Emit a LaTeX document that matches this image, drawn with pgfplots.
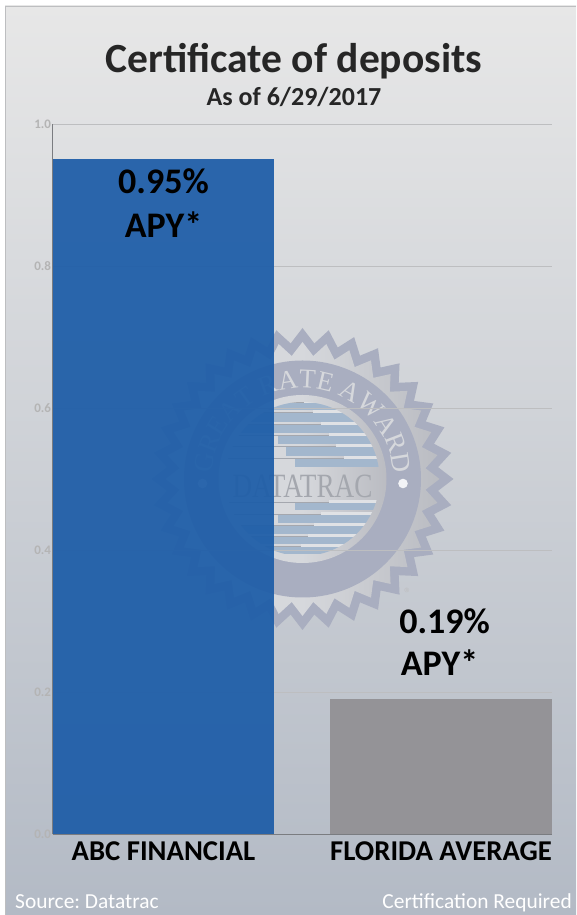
\documentclass[border=0pt]{standalone}
\usepackage{fontspec}
\setmainfont{Carlito}
\newfontfamily\sealfont{Liberation Serif}
\usepackage{pgfplots}
\pgfplotsset{compat=1.18}
\usetikzlibrary{shapes.geometric,decorations.text}
\definecolor{panelT}{HTML}{E7E7E7}
\definecolor{panelB}{HTML}{B3BAC5}
\definecolor{sealband}{HTML}{A9AEC0}
\definecolor{silverA}{HTML}{D6D8DC}
\definecolor{silverB}{HTML}{BABCC2}
\definecolor{stripe}{HTML}{A3B7CD}
\definecolor{stripeline}{HTML}{A4A7AE}
\definecolor{barblue}{HTML}{1F5EA8}
\definecolor{bargray}{HTML}{949397}
\definecolor{gridc}{HTML}{BDBEC0}
\definecolor{tickc}{HTML}{B4B4B4}
\definecolor{axisc}{HTML}{7A7C80}
\begin{document}
\frenchspacing
\begin{tikzpicture}[x=1pt,y=1pt]
\useasboundingbox (0,0) rectangle (576,915);
% panel
\fill[white] (0,0) rectangle (576,915);
\shade[top color=panelT,bottom color=panelB,draw=none] (5,0) rectangle (576,909);
\draw[color=gridc,line width=0.8pt] (5,0) -- (5,909) -- (576,909);
% seal
\begin{scope}[shift={(302.5,436)}]
\node[star,star points=36,star point ratio=1.11,minimum size=302pt,inner sep=0pt,fill=sealband,draw=none] at (0,0) {};
\node[star,star points=36,star point ratio=1.11,minimum size=274pt,inner sep=0pt,left color=silverA,right color=silverB,middle color=silverA,draw=none] at (0,0) {};
\fill[sealband] (0,0) circle (118.5);
\shade[left color=silverA,right color=silverB,middle color=silverA] (0,0) circle (84);
\fill[white!85!sealband] (-100,-4.5) circle (4.8);
\fill[white!85!sealband] (100.5,-4.5) circle (4.8);
\begin{scope}
\clip (0,0) circle (77);
\foreach \t/\b/\s/\l in {76/69/1/-90,66/57/10/-90,54/46/18/-90,43/35/26/-25,32/23/33/-17,20/12/41/-8,
  -24/-31/26/-8,-36/-44/18/-25,-47/-55/11/-90,-58/-65/5/-90,-68/-75/-2/-90}{
  \fill[stripe] (\l,\b) rectangle (90,\t);
  \fill[white!25!silverA] (\s,\t) rectangle (90,\t+3);
  \draw[stripeline,line width=0.5pt] (-90,\t+0.4) -- (\s,\t+0.4);
}
\end{scope}
\node[inner sep=0pt,text=stripeline] at (0,-7) {\scalebox{0.80}[1]{\sealfont\fontsize{34}{34}\selectfont DATATRAC}};
\path[decorate,decoration={text along path,text align=center,
  text={|\sealfont\fontsize{27}{27}\selectfont\color{silverA}|GREAT RATE AWARD}}]
  (200:91) arc[start angle=200,end angle=-20,radius=91];
\end{scope}
\node[text=gridc,inner sep=0pt,font=\fontsize{15}{15}\selectfont] at (408,322) {®};
% axis
\begin{axis}[
  name=main,
  at={(52.5pt,81pt)},anchor=south west,
  scale only axis,width=499.5pt,height=710pt,
  xmin=-0.4,xmax=1.4,ymin=0,ymax=1,
  axis line style={draw=none},
  axis x line*=bottom,axis y line*=left,
  ytick={0,0.2,0.4,0.6,0.8,1.0},
  xtick={0,1},xticklabels={ABC FINANCIAL,FLORIDA AVERAGE},
  major tick length=0pt,
  ymajorgrids,
  grid style={color=gridc,line width=0.6pt},
  y tick label style={/pgf/number format/fixed,/pgf/number format/fixed zerofill,/pgf/number format/precision=1,/pgf/number format/assume math mode=true,font=\fontsize{13}{13}\selectfont\bfseries,text=tickc,xshift=2pt},
  x tick label style={font=\fontsize{28.7}{28.7}\selectfont\bfseries,text=black,yshift=-4pt},
  clip=false,
]
\addplot[ybar,bar width=221pt,bar shift=0pt,fill=barblue,fill opacity=0.94,draw=none] coordinates {(0,0.95)};
\addplot[ybar,bar width=222pt,bar shift=0pt,fill=bargray,draw=none] coordinates {(1,0.19)};
\draw[axisc,line width=0.8pt] (axis cs:-0.4,0) -- (axis cs:-0.4,1);
\draw[axisc,line width=0.8pt] (axis cs:-0.4,0) -- (axis cs:1.4,0);
\node[font=\fontsize{36}{36}\selectfont\bfseries,text=black,inner sep=0pt] at (axis cs:0,0.919) {0.95\%};
\node[font=\fontsize{36}{36}\selectfont\bfseries,text=black,inner sep=0pt] at (axis cs:0,0.858) {APY*};
\node[font=\fontsize{36}{36}\selectfont\bfseries,text=black,inner sep=0pt] at (axis cs:1.013,0.300) {0.19\%};
\node[font=\fontsize{36}{36}\selectfont\bfseries,text=black,inner sep=0pt] at (axis cs:0.995,0.241) {APY*};
\end{axis}
% titles
\node[font=\fontsize{41.5}{41.5}\selectfont\bfseries,text=black!85,inner sep=0pt] at (294,854) {Certificate of deposits};
\node[font=\fontsize{26}{26}\selectfont\bfseries,text=black!85,inner sep=0pt] at (294,818) {As of 6/29/2017};
\node[font=\fontsize{21.4}{21.4}\selectfont,text=white,inner sep=0pt,anchor=base west] at (15,6) {Source: Datatrac};
\node[font=\fontsize{21.4}{21.4}\selectfont,text=white,inner sep=0pt,anchor=base east] at (572,6) {Certification Required};
\end{tikzpicture}
\end{document}
